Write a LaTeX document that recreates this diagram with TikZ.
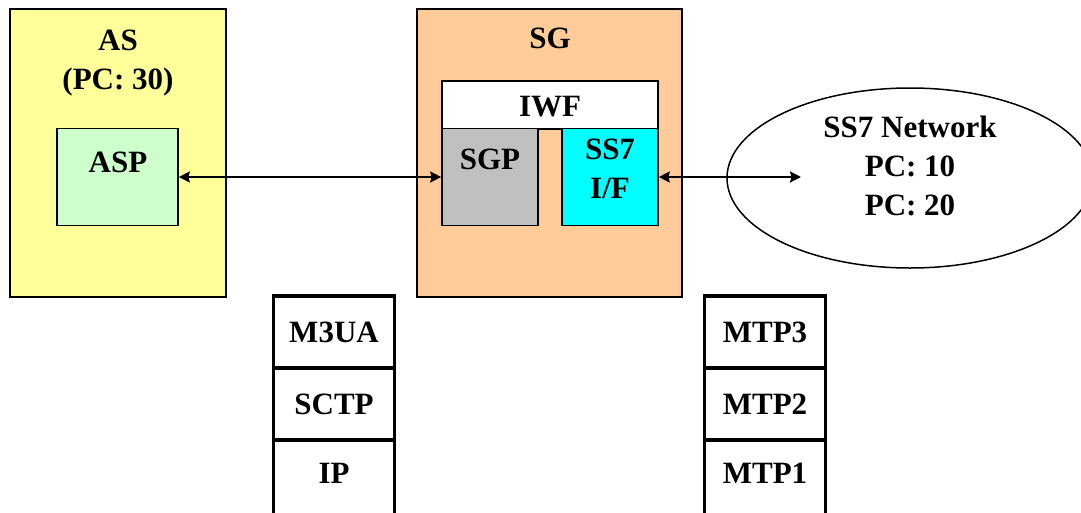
\documentclass[tikz,border=0pt]{standalone}
\usepackage{fontspec}
\setmainfont{Liberation Serif}
\usetikzlibrary{arrows.meta,shapes.geometric}
\definecolor{asyellow}{HTML}{FFFF99}
\definecolor{aspgreen}{HTML}{CCFFCC}
\definecolor{sgpeach}{HTML}{FFCC99}
\definecolor{sgpgray}{HTML}{C0C0C0}
\definecolor{ifcyan}{HTML}{00FFFF}
\begin{document}
\begin{tikzpicture}[x=1pt,y=-1pt,
  box/.style={draw, line width=1.6pt, inner sep=0pt},
  lbl/.style={font=\fontsize{31}{39}\selectfont\bfseries, align=center, inner sep=0pt, anchor=north},
  cell/.style={draw, line width=3.8pt, minimum width=121, minimum height=72, inner sep=0pt,
               font=\fontsize{31}{39}\selectfont\bfseries},
  link/.style={line width=2.2pt, {Stealth[length=11pt,width=11pt,inset=1.5pt]}-{Stealth[length=11pt,width=11pt,inset=1.5pt]}}]
\useasboundingbox (0,0) rectangle (1081,512);
\fill[white] (0,0) rectangle (1081,512);

% AS
\node[box, fill=asyellow, minimum width=216, minimum height=288] (as) at (118,153) {};
\node[lbl] (astxt) at (118,30) {AS\\(PC: 30)};
\node[box, fill=aspgreen, minimum width=121, minimum height=97] (asp) at (117.5,177) {};
\node[lbl] (asptxt) at (118,152) {ASP};

% SG
\node[box, fill=sgpeach, minimum width=265, minimum height=288] (sg) at (549.5,153) {};
\node[lbl] (sgtxt) at (550,28) {SG};
\node[box, fill=white, minimum width=216, minimum height=48] (iwf) at (550,105) {};
\node[lbl] (iwftxt) at (550,96) {IWF};
\node[box, fill=sgpgray, minimum width=96, minimum height=97] (sgp) at (490,177) {};
\node[lbl] (sgptxt) at (490,149) {SGP};
\node[box, fill=ifcyan, minimum width=96, minimum height=97] (ssif) at (610,177) {};
\node[lbl] (ssiftxt) at (610,139) {SS7\\I/F};

% SS7 network
\node[draw, line width=1.5pt, ellipse, minimum width=366, minimum height=180, inner sep=0pt] (net) at (910,178) {};
\node[lbl] (nettxt) at (910,116) {SS7 Network\\PC: 10\\PC: 20};
\coordinate (netin) at (801,177);

% connectors
\draw[link] (asp.east) -- (sgp.west);
\draw[link] (ssif.east) -- (netin);

% protocol stacks
\node[cell] (m3ua) at (334,332) {M3UA};
\node[cell] (sctp) at (334,404) {SCTP};
\node[cell, minimum height=80, text depth=14pt] (ip) at (334,480) {IP};
\node[cell] (mtp3) at (765,332) {MTP3};
\node[cell] (mtp2) at (765,404) {MTP2};
\node[cell, minimum height=80, text depth=14pt] (mtp1) at (765,480) {MTP1};
\end{tikzpicture}
\end{document}
